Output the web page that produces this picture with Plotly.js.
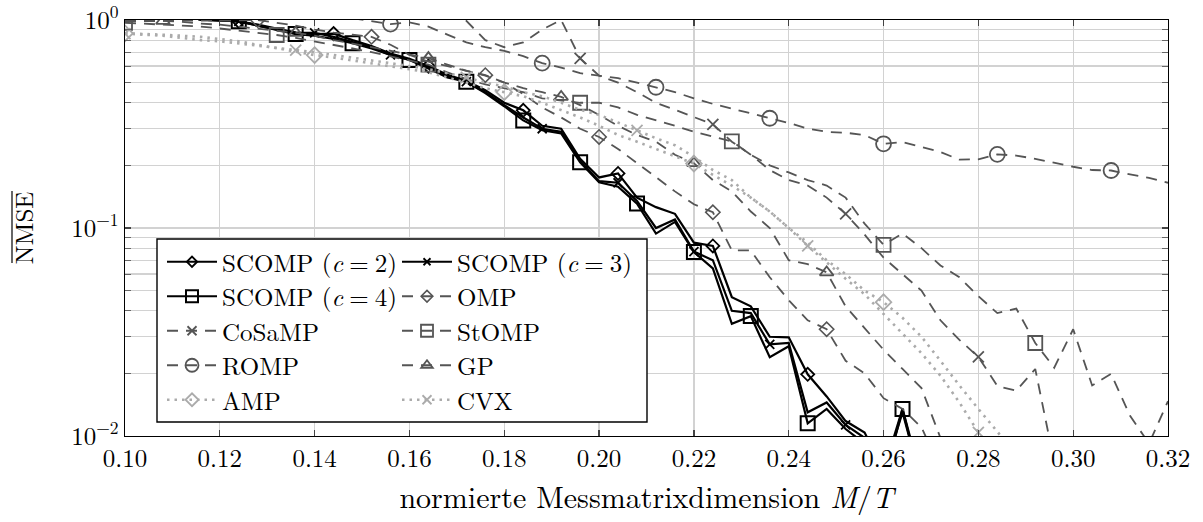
<!DOCTYPE html>
<html>
<head>
<meta charset="utf-8">
<script src="https://cdn.plot.ly/plotly-3.0.1.min.js"></script>
<style>html,body{margin:0;padding:0;background:#fff;}#chart{width:1203px;height:522px;}</style>
</head>
<body>
<div id="chart"></div>
<script>
// normierte Messmatrixdimension M/T
const mt = [0.100,0.104,0.108,0.112,0.116,0.120,0.124,0.128,0.132,0.136,0.140,0.144,0.148,0.152,0.156,0.160,0.164,0.168,0.172,0.176,0.180,0.184,0.188,0.192,0.196,0.200,0.204,0.208,0.212,0.216,0.220,0.224,0.228,0.232,0.236,0.240,0.244,0.248,0.252,0.256,0.260,0.264,0.268,0.272,0.276,0.280,0.284,0.288,0.292,0.296,0.300,0.304,0.308,0.312,0.316,0.320];

const scomp2 = [1.2,1.15,1.1,1.05,1.005,0.995,0.985,0.95,0.91,0.87,0.855,0.86,0.80,0.75,0.69,0.65,0.60,0.545,0.51,0.46,0.40,0.368,0.31,0.30,0.215,0.175,0.183,0.14,0.126,0.117,0.085,0.082,0.0465,0.042,0.030,0.0298,0.0198,0.0155,0.0118,0.0104,0.0068,0.0135,0.0062,0.004];
const scomp3 = [1.2,1.15,1.1,1.05,1.005,0.995,0.985,0.94,0.90,0.87,0.868,0.83,0.785,0.74,0.68,0.645,0.59,0.535,0.505,0.45,0.39,0.34,0.30,0.29,0.21,0.168,0.165,0.135,0.10,0.11,0.077,0.07,0.040,0.039,0.0276,0.028,0.013,0.0145,0.0113,0.0098,0.0066,0.013,0.006,0.004];
const scomp4 = [1.2,1.15,1.1,1.05,1.005,0.995,0.985,0.94,0.90,0.856,0.84,0.81,0.773,0.73,0.68,0.642,0.585,0.53,0.505,0.445,0.385,0.329,0.295,0.285,0.207,0.166,0.158,0.131,0.094,0.107,0.0766,0.064,0.0346,0.0377,0.0239,0.027,0.0115,0.0135,0.0108,0.0092,0.006,0.0135,0.0058,0.004];
const omp = [0.99,0.99,0.99,0.99,0.99,0.99,0.995,1.0,0.97,0.94,0.90,0.87,0.85,0.83,0.76,0.68,0.63,0.60,0.57,0.543,0.50,0.44,0.38,0.34,0.30,0.274,0.24,0.205,0.175,0.15,0.13,0.119,0.078,0.078,0.058,0.045,0.036,0.0326,0.023,0.020,0.0152,0.0135,0.011,0.007];
const cosamp = [null,null,null,null,null,null,null,null,null,null,null,null,null,null,null,null,null,1.05,0.99,0.80,0.74,0.78,0.90,1.0,0.654,0.54,0.50,0.45,0.40,0.37,0.34,0.315,0.26,0.225,0.19,0.17,0.16,0.14,0.117,0.093,0.072,0.06,0.05,0.036,0.029,0.024,0.0174,0.0165,0.021,0.0075];
const stomp = [0.97,0.96,0.95,0.94,0.93,0.91,0.89,0.87,0.847,0.82,0.79,0.76,0.73,0.70,0.67,0.64,0.61,0.56,0.52,0.49,0.47,0.45,0.42,0.41,0.40,0.40,0.38,0.35,0.33,0.31,0.29,0.275,0.261,0.225,0.20,0.185,0.17,0.16,0.14,0.105,0.083,0.094,0.08,0.066,0.058,0.047,0.039,0.041,0.028,0.0213,0.0326,0.0175,0.0199,0.0125,0.0092,0.0147];
const romp = [null,null,null,null,null,null,null,null,null,null,null,null,1.02,0.99,0.956,0.975,0.93,0.85,0.78,0.74,0.71,0.67,0.62,0.59,0.555,0.54,0.525,0.50,0.475,0.45,0.42,0.395,0.375,0.355,0.337,0.32,0.30,0.29,0.287,0.28,0.254,0.259,0.245,0.232,0.213,0.214,0.226,0.223,0.215,0.205,0.197,0.19,0.189,0.181,0.174,0.165];
const gp = [0.985,0.99,0.99,0.98,0.96,0.95,0.93,0.91,0.89,0.868,0.84,0.80,0.77,0.74,0.71,0.68,0.656,0.61,0.57,0.54,0.50,0.47,0.45,0.427,0.39,0.35,0.31,0.28,0.26,0.225,0.205,0.17,0.15,0.12,0.10,0.07,0.067,0.0612,0.042,0.033,0.026,0.021,0.017,0.0098,0.006];
const amp = [0.863,0.86,0.85,0.84,0.83,0.81,0.79,0.76,0.73,0.70,0.678,0.66,0.64,0.62,0.60,0.58,0.56,0.53,0.50,0.47,0.45,0.43,0.40,0.37,0.34,0.31,0.28,0.26,0.24,0.22,0.204,0.18,0.16,0.14,0.12,0.10,0.085,0.07,0.06,0.05,0.044,0.037,0.030,0.023,0.0175,0.0135,0.0105,0.008];
const cvx = [0.86,0.85,0.84,0.82,0.80,0.79,0.77,0.75,0.73,0.717,0.70,0.68,0.66,0.64,0.62,0.60,0.58,0.555,0.53,0.50,0.48,0.45,0.43,0.40,0.37,0.35,0.32,0.295,0.27,0.25,0.22,0.19,0.17,0.14,0.12,0.10,0.082,0.068,0.057,0.048,0.0385,0.031,0.025,0.0195,0.0145,0.0104,0.0078];

const EQ = '\u2005=\u2005';
const names = ['SCOMP (<i>c</i>' + EQ + '2)','SCOMP (<i>c</i>' + EQ + '3)','SCOMP (<i>c</i>' + EQ + '4)','OMP','CoSaMP','StOMP','ROMP','GP','AMP','CVX'];
const xTickVals = [0.10,0.12,0.14,0.16,0.18,0.20,0.22,0.24,0.26,0.28,0.30,0.32];
const yTickVals = [0.01,0.1,1];
const yTickText = ['10<sup>\u22122</sup>','10<sup>\u22121</sup>','10<sup>0</sup>'];

// styles (mark indices = which samples carry a plot mark, like pgfplots "mark indices")
const BLACK = '#000000', DARK = '#555555', LIGHT = '#ababab';
const solid = {color: BLACK, width: 2.2, dash: 'solid'};
const dashed = {color: DARK, width: 1.8, dash: '11px,8px'};
const dotted = {color: LIGHT, width: 2.6, dash: '2.5px,5px'};
// legend slot: row (0..4), col (0..1)
const styles = [
  {y: scomp2, line: solid,  sym: 'diamond-open', size: 10, lw: 1.8, row: 0, col: 0, marks: [6,11,16,21,26,31,36]},
  {y: scomp3, line: solid,  sym: 'x-thin-open',  size: 9,  lw: 1.8, row: 0, col: 1, marks: [6,10,14,18,22,26,30,34,38,42]},
  {y: scomp4, line: solid,  sym: 'square-open',  size: 14, lw: 2.0, row: 1, col: 0, marks: [6,9,12,15,18,21,24,27,30,33,36,41]},
  {y: omp,    line: dashed, sym: 'diamond-open', size: 11, lw: 1.6, row: 1, col: 1, marks: [7,13,19,25,31,37]},
  {y: cosamp, line: dashed, sym: 'x-thin-open',  size: 11, lw: 1.8, row: 2, col: 0, marks: [24,31,38,45]},
  {y: stomp,  line: dashed, sym: 'square-open',  size: 14, lw: 1.8, row: 2, col: 1, marks: [0,8,16,24,32,40,48]},
  {y: romp,   line: dashed, sym: 'circle-open',  size: 15, lw: 1.8, row: 3, col: 0, marks: [14,22,28,34,40,46,52]},
  {y: gp,     line: dashed, sym: 'triangle-up-open', size: 12, lw: 1.8, row: 3, col: 1, marks: [2,9,16,23,30,37]},
  {y: amp,    line: dotted, sym: 'diamond-open', size: 12, lw: 1.8, row: 4, col: 0, marks: [0,10,20,30,40]},
  {y: cvx,    line: dotted, sym: 'x-thin-open',  size: 11, lw: 1.8, row: 4, col: 1, marks: [0,9,18,27,36,45]}
];

const FONT = 'Latin Modern Roman';
const PLOT = {l: 125, t: 20, w: 1043, h: 416};
const px2x = p => (p - PLOT.l) / PLOT.w;
const px2y = p => (PLOT.t + PLOT.h - p) / PLOT.h;
const colX = [162, 397];                      // legend item origins (px)
const rowY = [262, 296.5, 331, 365.5, 400];   // legend row centres (px)

const traces = [];
styles.forEach((s) => {
  const xs = mt.slice(0, s.y.length);
  const mk = {symbol: s.sym, size: s.size, color: s.line.color, line: {color: s.line.color, width: s.lw}};
  traces.push({x: xs, y: s.y, mode: 'lines', line: s.line, showlegend: false, hoverinfo: 'skip'});
  traces.push({x: s.marks.map(i => mt[i]), y: s.marks.map(i => s.y[i]), mode: 'markers', marker: mk, showlegend: false, hoverinfo: 'skip'});
});

const layout = {
  width: 1203, height: 522,
  margin: {l: 125, r: 35, t: 20, b: 86},
  paper_bgcolor: '#fff', plot_bgcolor: '#fff',
  font: {family: FONT, size: 25, color: '#000'},
  showlegend: true,
  xaxis: {
    range: [0.10, 0.32], tickmode: 'array', tickvals: xTickVals, tickformat: '.2f',
    ticks: 'inside', ticklen: 6, tickwidth: 1.2, tickcolor: '#444',
    showline: true, linecolor: '#000', linewidth: 1.4, mirror: 'ticks',
    showgrid: true, gridcolor: '#d2d2d2', gridwidth: 1.3, zeroline: false,
    ticklabeloverflow: 'allow',
    tickfont: {family: FONT, size: 25, color: '#000'},
    title: {text: 'normierte Messmatrixdimension <i>M</i>/<i>T</i>', font: {family: FONT, size: 30, color: '#000'}, standoff: 12}
  },
  yaxis: {
    type: 'log', range: [-2, 0], tickmode: 'array', tickvals: yTickVals, ticktext: yTickText,
    ticks: 'inside', ticklen: 6, tickwidth: 1.2, tickcolor: '#444',
    showline: true, linecolor: '#000', linewidth: 1.4, mirror: 'ticks',
    showgrid: true, gridcolor: '#d2d2d2', gridwidth: 1.3, zeroline: false,
    ticklabeloverflow: 'allow',
    tickfont: {family: FONT, size: 25, color: '#000'},
    minor: {tickmode: 'array', tickvals: (function(){const v=[];[-2,-1].forEach(d=>{for(let k=2;k<=9;k++)v.push(k*Math.pow(10,d));});return v;})(),
      ticks: 'inside', ticklen: 6, tickcolor: '#666', showgrid: true, gridcolor: '#d2d2d2', gridwidth: 1.3},
    title: {text: 'NMSE', font: {family: FONT, size: 25, color: '#000'}, standoff: 30}
  },
  shapes: [
    {type: 'rect', xref: 'paper', yref: 'paper',
     x0: px2x(157), x1: px2x(647), y0: px2y(422), y1: px2y(239),
     line: {color: '#000', width: 1.4}, fillcolor: '#fff', layer: 'above'},
    // overline of the y-axis label (mean NMSE)
    {type: 'line', xref: 'paper', yref: 'paper',
     x0: px2x(12), x1: px2x(12), y0: px2y(263), y1: px2y(191),
     line: {color: '#000', width: 1.2}}
  ]
};

// one legend per slot so the two-column grid matches the original exactly
styles.forEach((s, k) => {
  const id = k === 0 ? 'legend' : 'legend' + (k + 1);
  layout[id] = {
    bgcolor: 'rgba(0,0,0,0)', borderwidth: 0, itemwidth: 50, tracegroupgap: 0,
    font: {family: FONT, size: 25, color: '#000'}, orientation: 'v',
    xanchor: 'left', yanchor: 'top',
    x: px2x(colX[s.col]),
    y: px2y(rowY[s.row] - 23)
  };
  traces.push({x: [null], y: [null], name: names[k], legend: id, mode: 'lines+markers', line: s.line,
    marker: {symbol: s.sym, size: s.size - 2, color: s.line.color, line: {color: s.line.color, width: s.lw}}});
});

Plotly.newPlot('chart', traces, layout, {displayModeBar: false, staticPlot: true});
</script>
</body>
</html>
